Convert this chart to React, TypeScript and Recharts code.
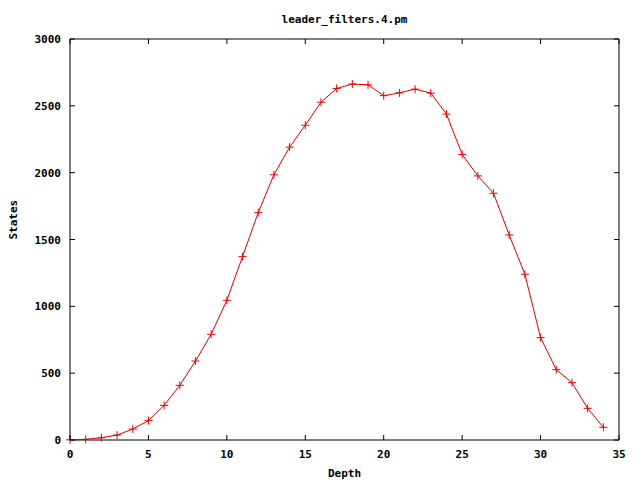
import React from 'react';
import {
  LineChart,
  Line,
  XAxis,
  YAxis,
  ReferenceArea,
  Label
} from 'recharts';

const depths = [0, 1, 2, 3, 4, 5, 6, 7, 8, 9, 10, 11, 12, 13, 14, 15, 16, 17, 18, 19, 20, 21, 22, 23, 24, 25, 26, 27, 28, 29, 30, 31, 32, 33, 34];
const states = [1, 5, 17, 37, 82, 145, 259, 409, 591, 791, 1045, 1372, 1701, 1984, 2191, 2355, 2527, 2630, 2663, 2657, 2576, 2597, 2625, 2595, 2438, 2136, 1976, 1846, 1534, 1240, 766, 526, 429, 237, 95];
const xTicks = [0, 5, 10, 15, 20, 25, 30, 35];
const yTicks = [0, 500, 1000, 1500, 2000, 2500, 3000];

const data = depths.map((d, i) => ({ depth: d, states: states[i] }));

// plot box, gnuplot style
const TOP = 39;
const BOTTOM = 440;
const LEFT = 70;
const RIGHT = 619;
const FONT = '"DejaVu Sans Mono", monospace';

const XTick = (props: any) => {
  const { x, payload } = props;
  return (
    <g>
      <line x1={x} x2={x} y1={BOTTOM} y2={BOTTOM - 5} stroke="#000" />
      <line x1={x} x2={x} y1={TOP} y2={TOP + 5} stroke="#000" />
      <text x={x} y={BOTTOM + 18} textAnchor="middle" fontFamily={FONT} fontWeight="bold" fontSize={11} fill="#000">
        {payload.value}
      </text>
    </g>
  );
};

const YTick = (props: any) => {
  const { y, payload } = props;
  return (
    <g>
      <line x1={LEFT} x2={LEFT + 5} y1={y} y2={y} stroke="#000" />
      <line x1={RIGHT} x2={RIGHT - 5} y1={y} y2={y} stroke="#000" />
      <text x={LEFT - 9} y={y + 4} textAnchor="end" fontFamily={FONT} fontWeight="bold" fontSize={11} fill="#000">
        {payload.value}
      </text>
    </g>
  );
};

const Plus = (props: any) => {
  const { cx, cy } = props;
  if (cx == null || cy == null) return null;
  return (
    <g>
      <line x1={cx - 4} x2={cx + 4} y1={cy} y2={cy} stroke="#ee0000" />
      <line x1={cx} x2={cx} y1={cy - 4} y2={cy + 4} stroke="#ee0000" />
    </g>
  );
};

export default function App() {
  return (
    <div style={{ position: 'absolute', left: 0, top: 0, width: 640, height: 480, background: '#fff' }}>
      <div
        style={{
          position: 'absolute',
          left: LEFT,
          width: RIGHT - LEFT,
          top: 13,
          textAlign: 'center',
          fontFamily: FONT,
          fontWeight: 'bold',
          fontSize: 11,
          color: '#000'
        }}
      >
        leader_filters.4.pm
      </div>
      <LineChart
        width={640}
        height={480}
        data={data}
        margin={{ top: TOP, right: 640 - RIGHT, bottom: 0, left: 9 }}
      >
        <XAxis
          dataKey="depth"
          type="number"
          domain={[0, 35]}
          ticks={xTicks}
          interval={0}
          height={40}
          axisLine={false}
          tickLine={false}
          tickSize={0}
          tick={<XTick />}
        >
          <Label value="Depth" position="insideBottom" offset={3} fontFamily={FONT} fontWeight="bold" fontSize={11} fill="#000" />
        </XAxis>
        <YAxis
          type="number"
          domain={[0, 3000]}
          ticks={yTicks}
          interval={0}
          width={LEFT - 9}
          axisLine={false}
          tickLine={false}
          tickSize={0}
          tick={<YTick />}
        >
          <Label value="States" angle={-90} position="insideLeft" offset={4} fontFamily={FONT} fontWeight="bold" fontSize={11} fill="#000" />
        </YAxis>
        <ReferenceArea x1={0} x2={35} y1={0} y2={3000} fill="none" stroke="#000" strokeWidth={1} fillOpacity={0} />
        <Line
          dataKey="states"
          stroke="#dd0000"
          strokeWidth={1}
          dot={<Plus />}
          activeDot={false}
          isAnimationActive={false}
        />
      </LineChart>
    </div>
  );
}
